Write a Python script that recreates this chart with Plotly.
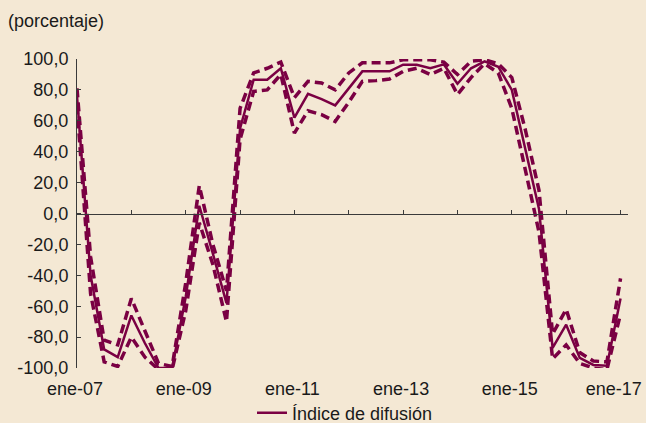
import plotly.graph_objects as go

# ---- data (quarterly) ----
periodos = [
    "ene-07", "abr-07", "jul-07", "oct-07",
    "ene-08", "abr-08", "jul-08", "oct-08",
    "ene-09", "abr-09", "jul-09", "oct-09",
    "ene-10", "abr-10", "jul-10", "oct-10",
    "ene-11", "abr-11", "jul-11", "oct-11",
    "ene-12", "abr-12", "jul-12", "oct-12",
    "ene-13", "abr-13", "jul-13", "oct-13",
    "ene-14", "abr-14", "jul-14", "oct-14",
    "ene-15", "abr-15", "jul-15", "oct-15",
    "ene-16", "abr-16", "jul-16", "oct-16",
    "ene-17",
]

indice_difusion = [
    76, -40, -88, -93,
    -66, -84, -100, -100,
    -54, 5, -26, -58,
    55, 86.6, 86.6, 94,
    62, 77.5, 74, 70,
    81, 92, 92, 92,
    96.3, 96.3, 94, 96.5,
    84, 94, 98.5, 95,
    80, 42, 3, -87,
    -72, -93.5, -98, -98.5,
    -55,
]

banda_superior = [
    81, -28, -82, -85,
    -55, -76, -97, -99,
    -45, 18, -20, -50,
    68, 91, 94, 98,
    75, 85.5, 84.5, 80,
    91, 97.5, 97.5, 97.5,
    99.5, 99.5, 99.5, 98,
    90, 98.5, 99.5, 97,
    88, 54, 15, -78,
    -62, -90, -95.5, -96,
    -42,
]

banda_inferior = [
    70, -52, -96, -99,
    -80, -93, -101, -101,
    -63, -6, -33, -70,
    48, 79, 80, 90,
    52, 66.5, 64, 59.6,
    72, 85.5, 86, 87,
    92, 94, 90, 94,
    77, 88, 97, 91,
    68, 27, -12, -94,
    -85, -97, -100, -101,
    -65,
]

# last label is nudged inside the figure (as in the reference)
xtick_values = ["ene-07", "ene-09", "ene-11", "ene-13", "ene-15", 39.65]
xtick_labels = ["ene-07", "ene-09", "ene-11", "ene-13", "ene-15", "ene-17"]
ytick_values = [-100, -80, -60, -40, -20, 0, 20, 40, 60, 80, 100]
ytick_labels = ["-100,0", "-80,0", "-60,0", "-40,0", "-20,0", "0,0",
                "20,0", "40,0", "60,0", "80,0", "100,0"]

# ---- style ----
COLOR = "#7A0043"
BG = "#F4E8D4"
AXIS = "#3a3a3a"
FONT = "Liberation Sans, Arial, Helvetica, sans-serif"

fig = go.Figure()
for band in (banda_superior, banda_inferior):
    fig.add_trace(go.Scatter(
        x=periodos, y=band, mode="lines",
        line=dict(color=COLOR, width=3.5, dash="9px,5px"),
        showlegend=False, hoverinfo="skip",
    ))
fig.add_trace(go.Scatter(
    x=periodos, y=indice_difusion, mode="lines",
    name="Índice de difusión",
    line=dict(color=COLOR, width=2.5),
))
# empty helper trace so that the zero-line axis (x2) is drawn
fig.add_trace(go.Scatter(x=[], y=[], xaxis="x2", yaxis="y",
                         showlegend=False, hoverinfo="skip"))

XR = [0, 40.55]
fig.update_layout(
    width=646, height=423,
    paper_bgcolor=BG, plot_bgcolor=BG,
    margin=dict(l=77, r=18, t=59, b=55, pad=0, autoexpand=False),
    font=dict(family=FONT, size=18, color="#1a1a1a"),
    title=dict(text="(porcentaje)", x=8 / 646, xref="container", xanchor="left",
               y=1 - 21 / 423, yref="container", yanchor="middle",
               font=dict(family=FONT, size=18, color="#1a1a1a")),
    xaxis=dict(type="category", range=XR, tickmode="array",
               tickvals=xtick_values, ticktext=xtick_labels,
               showline=False, showgrid=False, zeroline=False,
               ticks="outside", ticklen=4, tickcolor="rgba(0,0,0,0)",
               ticklabelshift=-2),
    xaxis2=dict(type="linear", overlaying="x", anchor="free", position=0.5,
                range=XR, tick0=0, dtick=4, showticklabels=False,
                showline=True, linecolor=AXIS, linewidth=1,
                ticks="inside", ticklen=4, tickcolor=AXIS, tickwidth=1,
                showgrid=False, zeroline=False),
    yaxis=dict(range=[-100, 100], tickmode="array", tickvals=ytick_values,
               ticktext=ytick_labels, showline=True, linecolor=AXIS, linewidth=1,
               ticks="inside", ticklen=4, tickcolor=AXIS, tickwidth=1,
               showgrid=False, zeroline=False, ticklabelstandoff=4),
    legend=dict(orientation="h", x=(252 - 77) / 551, xanchor="left",
                y=(368 - 413) / 309, yanchor="middle",
                bgcolor="rgba(0,0,0,0)", font=dict(family=FONT, size=18)),
    showlegend=True,
)

fig.write_html(
    "out.html",
    config={"displayModeBar": False},
    post_script=["document.body.style.margin='0';document.body.style.background='%s';" % BG],
)
